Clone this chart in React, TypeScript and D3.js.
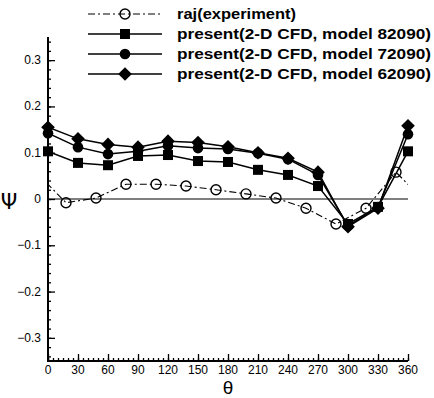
import * as d3 from "d3"
import { useEffect, useRef } from "react"

const W = 434
const H = 398
const FONT = "'Liberation Sans', Arial, Helvetica, sans-serif"

// theta (deg) of CFD results
const thetaCfd = [0, 30, 60, 90, 120, 150, 180, 210, 240, 270, 300, 330, 360]
const psi82090 = [0.103, 0.078, 0.073, 0.093, 0.095, 0.082, 0.08, 0.063, 0.052, 0.028, -0.054, -0.017, 0.103]
const psi72090 = [0.142, 0.112, 0.097, 0.103, 0.115, 0.11, 0.108, 0.099, 0.086, 0.052, -0.058, -0.018, 0.14]
const psi62090 = [0.155, 0.13, 0.118, 0.112, 0.125, 0.122, 0.113, 0.1, 0.088, 0.058, -0.06, -0.02, 0.158]

// experiment (periodic, first/last lie outside the axis and are clipped)
const thetaExp = [-12, 18, 48, 78, 108, 138, 168, 198, 228, 258, 288, 318, 348, 378]
const psiExp = [0.058, -0.008, 0.002, 0.032, 0.032, 0.028, 0.02, 0.011, 0.002, -0.02, -0.054, -0.02, 0.058, -0.008]

const xTicks = [0, 30, 60, 90, 120, 150, 180, 210, 240, 270, 300, 330, 360]
const yTicks = [-0.3, -0.2, -0.1, 0, 0.1, 0.2, 0.3]

const legendLabels = [
  "raj(experiment)",
  "present(2-D CFD, model 82090)",
  "present(2-D CFD, model 72090)",
  "present(2-D CFD, model 62090)",
]

export default function App() {
  const svgRef = useRef<SVGSVGElement | null>(null)

  useEffect(() => {
    if (!svgRef.current) return
    const svg = d3.select(svgRef.current)
    svg.selectAll("*").remove()

    const x = d3.scaleLinear().domain([0, 360]).range([48, 408])
    const y = d3.scaleLinear().domain([-0.35, 0.35]).range([361, 37])

    svg.append("rect").attr("width", W).attr("height", H).attr("fill", "#fff")

    svg
      .append("clipPath")
      .attr("id", "plot-clip")
      .append("rect")
      .attr("x", x(0))
      .attr("y", y(0.35))
      .attr("width", x(360) - x(0))
      .attr("height", y(-0.35) - y(0.35))

    // zero line
    svg
      .append("line")
      .attr("x1", x(0))
      .attr("x2", x(360))
      .attr("y1", y(0))
      .attr("y2", y(0))
      .attr("stroke", "#000")
      .attr("stroke-width", 1.2)

    // axes (ticks inward)
    const gx = svg.append("g").attr("transform", `translate(0,${y(-0.35)})`)
    gx.call(d3.axisTop(x).tickValues(d3.range(0, 361, 5)).tickSize(3).tickFormat(() => ""))
    gx.append("g").call(d3.axisTop(x).tickValues(xTicks).tickSize(7).tickFormat(() => ""))
    gx.selectAll(".domain").remove()
    gx.selectAll("line").attr("stroke", "#000").attr("stroke-width", 1.3)
    gx.selectAll("text.xl")
      .data(xTicks)
      .enter()
      .append("text")
      .attr("x", (d) => x(d))
      .attr("y", 13)
      .attr("text-anchor", "middle")
      .attr("fill", "#000")
      .style("font-family", FONT)
      .style("font-size", "12px")
      .text((d) => d)

    const gy = svg.append("g").attr("transform", `translate(${x(0)},0)`)
    gy.call(d3.axisRight(y).tickValues(d3.range(-0.34, 0.35, 0.02)).tickSize(3).tickFormat(() => ""))
    gy.append("g").call(d3.axisRight(y).tickValues(yTicks).tickSize(7).tickFormat(() => ""))
    gy.selectAll(".domain").remove()
    gy.selectAll("line").attr("stroke", "#000").attr("stroke-width", 1.3)
    gy.selectAll("text.yl")
      .data(yTicks)
      .enter()
      .append("text")
      .attr("x", -7)
      .attr("y", (d) => y(d) + 4)
      .attr("text-anchor", "end")
      .attr("fill", "#000")
      .style("font-family", FONT)
      .style("font-size", "12px")
      .text((d) => (d === 0 ? "0" : d3.format(".1f")(d)))

    svg
      .append("path")
      .attr("d", `M${x(0)},${y(0.35)}V${y(-0.35)}H${x(360)}`)
      .attr("fill", "none")
      .attr("stroke", "#000")
      .attr("stroke-width", 2)

    // axis titles
    svg
      .append("text")
      .attr("x", 9)
      .attr("y", 209)
      .attr("text-anchor", "middle")
      .style("font-family", "'DejaVu Sans', sans-serif")
      .style("font-size", "21px")
      .text("Ψ")
    svg
      .append("text")
      .attr("x", 228)
      .attr("y", 394)
      .attr("text-anchor", "middle")
      .style("font-family", "'Liberation Sans', sans-serif")
      .style("font-size", "19px")
      .text("θ")

    const line = d3
      .line<[number, number]>()
      .x((d) => x(d[0]))
      .y((d) => y(d[1]))

    // markers
    const drawMarker = (g: any, kind: string, cx: number, cy: number) => {
      if (kind === "square") {
        g.append("rect").attr("x", cx - 5).attr("y", cy - 5).attr("width", 10).attr("height", 10).attr("fill", "#000")
      } else if (kind === "circle") {
        g.append("circle").attr("cx", cx).attr("cy", cy).attr("r", 5.3).attr("fill", "#000")
      } else if (kind === "diamond") {
        g.append("path")
          .attr("d", `M${cx},${cy - 6.8}L${cx + 6.8},${cy}L${cx},${cy + 6.8}L${cx - 6.8},${cy}Z`)
          .attr("fill", "#000")
      } else {
        g.append("circle")
          .attr("cx", cx)
          .attr("cy", cy)
          .attr("r", 5)
          .attr("fill", "none")
          .attr("stroke", "#000")
          .attr("stroke-width", 1.4)
      }
    }

    const series = [
      { kind: "open", th: thetaExp, vals: psiExp, dash: "7,3,2,3", width: 1.1 },
      { kind: "square", th: thetaCfd, vals: psi82090, dash: null, width: 1.5 },
      { kind: "circle", th: thetaCfd, vals: psi72090, dash: null, width: 1.5 },
      { kind: "diamond", th: thetaCfd, vals: psi62090, dash: null, width: 1.5 },
    ]

    series.forEach((s) => {
      const pts = s.th.map((t, i) => [t, s.vals[i]] as [number, number])
      svg
        .append("path")
        .attr("d", line(pts))
        .attr("fill", "none")
        .attr("stroke", "#000")
        .attr("stroke-width", s.width)
        .attr("stroke-dasharray", s.dash)
        .attr("clip-path", "url(#plot-clip)")
      const g = svg.append("g")
      pts.filter((p) => p[0] >= 0 && p[0] <= 360).forEach((p) => drawMarker(g, s.kind, x(p[0]), y(p[1])))
    })

    // legend
    const lg = svg.append("g")
    legendLabels.forEach((label, i) => {
      const s = series[i]
      const ly = 14 + i * 20
      lg.append("line")
        .attr("x1", 88)
        .attr("x2", 162)
        .attr("y1", ly)
        .attr("y2", ly)
        .attr("stroke", "#000")
        .attr("stroke-width", s.width)
        .attr("stroke-dasharray", s.dash)
      drawMarker(lg, s.kind, 125, ly)
      lg.append("text")
        .attr("x", 177)
        .attr("y", ly + 5)
        .attr("textLength", i === 0 ? 119 : 254)
        .attr("lengthAdjust", "spacingAndGlyphs")
        .style("font-family", FONT)
        .style("font-size", "14.5px")
        .style("font-weight", "bold")
        .text(label)
    })
  }, [])

  return <svg ref={svgRef} width={W} height={H} style={{ position: "absolute", left: 0, top: 0 }} />
}
